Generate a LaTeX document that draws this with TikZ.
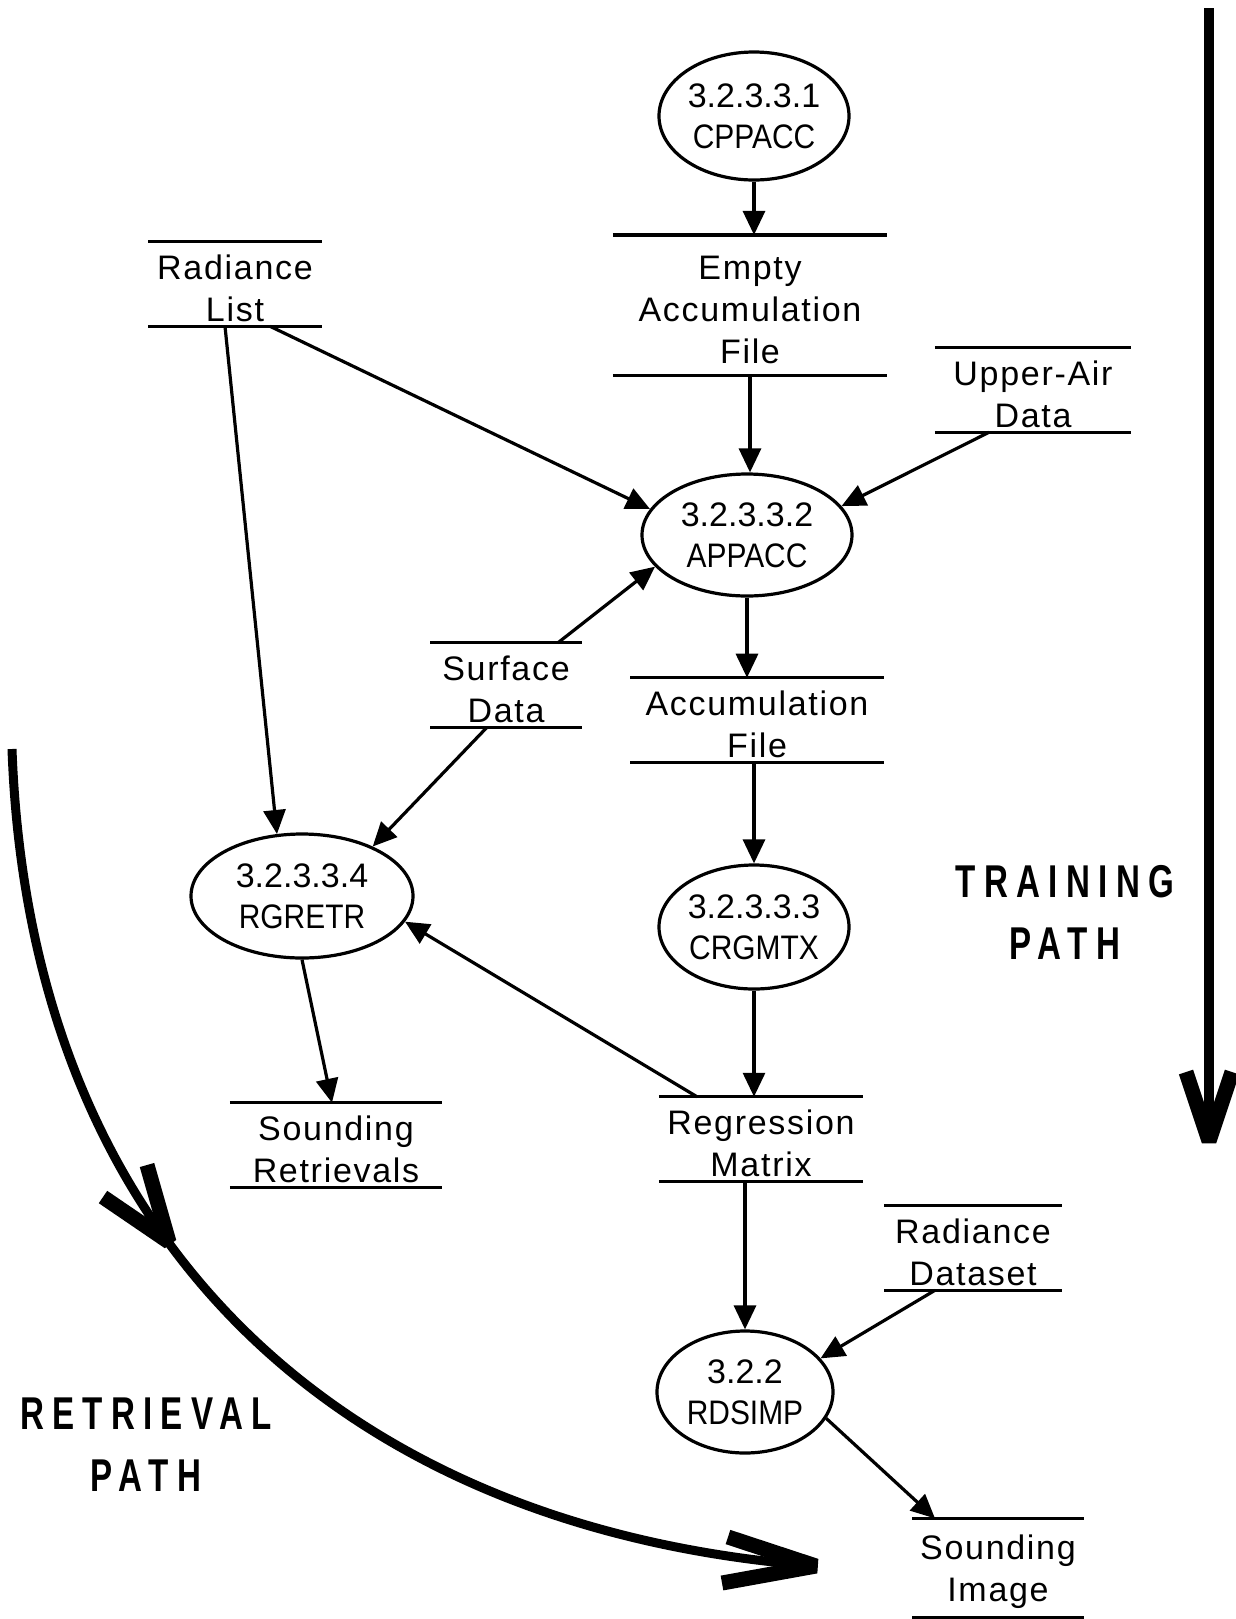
\documentclass[tikz,border=0pt]{standalone}
\usepackage{fontspec}
\setmainfont{Liberation Sans}
\newfontfamily\storefont[LetterSpace=5]{Liberation Sans}
\newfontfamily\procnamefont[FakeStretch=0.88]{Liberation Sans}
\newfontfamily\pathfont[FakeStretch=0.72,LetterSpace=18]{Liberation Sans}
\usetikzlibrary{shapes.geometric,arrows.meta}

\tikzset{
  store/.style={text width=#1, align=center, inner xsep=0pt, inner ysep=1.5pt,
                font=\storefont\fontsize{17}{21}\selectfont,
                execute at begin node=\rule{0pt}{16.5pt},
                append after command={
                  (\tikzlastnode.north west) edge[-] (\tikzlastnode.north east)
                  (\tikzlastnode.south west) edge[-] (\tikzlastnode.south east)}},
  proc/.style={shape=ellipse, draw, inner sep=0pt, align=center,
               font=\fontsize{17}{20.5}\selectfont},
  bigpath/.style={-, line width=5pt},
  barb/.style={-, line width=7.5pt, line join=bevel, line cap=butt},
  pathlabel/.style={align=center, font=\pathfont\bfseries\fontsize{23}{31}\selectfont}
}

\begin{document}
\begin{tikzpicture}[->,>={Triangle[length=12pt,width=11pt]},x=0.5pt,y=-0.5pt,
                    line width=1.6pt]
  \useasboundingbox (0,0) rectangle (1236,1619);

  \node[proc,minimum width=95pt,minimum height=64pt] (cppacc) at (754,116) {3.2.3.3.1\\{\procnamefont CPPACC}};
  \node[proc,minimum width=105pt,minimum height=61pt] (appacc) at (747,535) {3.2.3.3.2\\{\procnamefont APPACC}};
  \node[proc,minimum width=111pt,minimum height=62pt] (rgretr) at (302,896) {3.2.3.3.4\\{\procnamefont RGRETR}};
  \node[proc,minimum width=95pt,minimum height=62pt] (crgmtx) at (754,927) {3.2.3.3.3\\{\procnamefont CRGMTX}};
  \node[proc,minimum width=88pt,minimum height=61pt] (rdsimp) at (745,1392) {3.2.2\\{\procnamefont RDSIMP}};

  \node[store=85pt] (radlist) at (235,284) {Radiance\\List};
  \node[store=135.5pt,minimum height=68.5pt] (emptyacc) at (750,305) {Empty\\Accumulation\\File};
  \node[store=96.5pt] (upperair) at (1033,390) {Upper-Air\\Data};
  \node[store=74pt] (surface) at (506,685) {Surface\\Data};
  \node[store=125pt] (accfile) at (757,720) {Accumulation\\File};
  \node[store=104.5pt] (sndret) at (336,1145) {Sounding\\Retrievals};
  \node[store=100.5pt] (regmat) at (761,1139) {Regression\\Matrix};
  \node[store=87pt] (raddata) at (973,1248) {Radiance\\Dataset};
  \node[store=84pt,minimum height=48pt] (sndimg) at (998,1568) {Sounding\\Image};

  \path (cppacc.south) edge (cppacc.south |- emptyacc.north)
        (emptyacc.south) edge (emptyacc.south |- appacc.north)
        ([xshift=17.5pt]radlist.south) edge (appacc.165)
        ([xshift=-5pt]radlist.south) edge (rgretr.112)
        ([xshift=-22pt]upperair.south) edge (appacc.17)
        ([xshift=26pt]surface.north) edge (appacc.199)
        ([xshift=-9.5pt]surface.south) edge (rgretr.35)
        (appacc.south) edge (appacc.south |- accfile.north)
        (crgmtx.north |- accfile.south) edge (crgmtx.north)
        (crgmtx.south) edge (crgmtx.south |- regmat.north)
        ([xshift=-32pt]regmat.north) edge (rgretr.346)
        (rgretr.south) edge ([xshift=-2pt]sndret.north)
        (rdsimp.north |- regmat.south) edge (rdsimp.north)
        ([xshift=-19pt]raddata.south) edge (rdsimp.24)
        (rdsimp.342) edge ([xshift=-31.5pt]sndimg.north);

  \coordinate (trtop) at (1209,8);
  \coordinate (trtip) at (1209,1141);
  \draw[bigpath] (trtop) -- (trtip);
  \draw[barb] ([shift={(-23,-69)}]trtip) -- (trtip) -- ([shift={(23,-69)}]trtip);
  \node[pathlabel] (trlabel) at (1065,912) {TRAINING\\PATH};

  \coordinate (rtstart) at (12,749);
  \coordinate (rtmid) at (169,1242);
  \coordinate (rtend) at (816,1566);
  \draw[bigpath,line width=4.5pt] (rtstart) .. controls (30,1250) and (350,1530) .. (rtend);
  \draw[barb] ([shift={(-22,-77)}]rtmid) -- (rtmid) -- ([shift={(-66,-45)}]rtmid);
  \draw[barb] ([shift={(-88,-29)}]rtend) -- (rtend) -- ([shift={(-94,17)}]rtend);
  \node[pathlabel] (rtlabel) at (146,1445) {RETRIEVAL\\PATH};
\end{tikzpicture}
\end{document}
